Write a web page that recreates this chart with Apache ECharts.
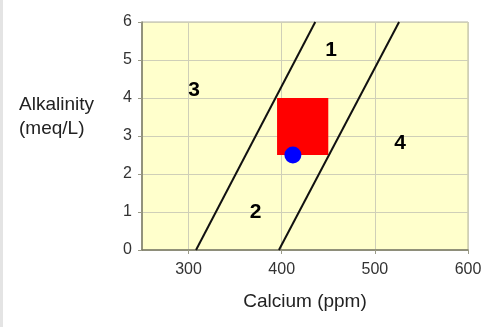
<!DOCTYPE html>
<html>
<head>
<meta charset="utf-8">
<script src="https://cdn.jsdelivr.net/npm/echarts@6/dist/echarts.min.js"></script>
<style>
html,body{margin:0;padding:0;background:#fff;}
#chart{width:500px;height:327px;}
</style>
</head>
<body>
<div id="chart"></div>
<script>
// ---- data ----
var xTicks = [300, 400, 500, 600];
var yTicks = [0, 1, 2, 3, 4, 5, 6];
var boundaryLeft = [[308, 0], [436, 6]];
var boundaryRight = [[397, 0], [526, 6]];
var targetBoxX = [395, 450];
var targetBoxY = [2.5, 4];
var samplePoint = [[412, 2.5]];
var regionNames = ['1', '2', '3', '4'];
var regionX = [453, 372, 306, 527];
var regionY = [5.25, 1.0, 4.2, 2.8];
var xName = 'Calcium (ppm)';
var yName = 'Alkalinity\n(meq/L)';

var regionData = regionNames.map(function (n, i) {
  return { name: n, value: [regionX[i], regionY[i]] };
});

var chart = echarts.init(document.getElementById('chart'), null, { renderer: 'canvas' });
var font = '"Liberation Sans", Arial, sans-serif';
chart.setOption({
  animation: false,
  backgroundColor: '#ffffff',
  graphic: [{
    type: 'rect', left: 0, top: 0, shape: { width: 3, height: 327 },
    style: { fill: '#e4e4e4' }, silent: true
  }, {
    type: 'text', left: 19, top: 93, silent: true,
    style: { text: yName, fontFamily: font, fontSize: 19, lineHeight: 24, fill: '#222', align: 'left' }
  }],
  grid: {
    left: 142, right: 32, top: 22, bottom: 77,
    show: true, backgroundColor: '#FFFFCC', borderColor: '#b4b4a0', borderWidth: 1
  },
  xAxis: {
    type: 'value', min: 250, max: 600,
    name: xName, nameLocation: 'middle', nameGap: 42,
    nameTextStyle: { fontFamily: font, fontSize: 19, color: '#222' },
    axisLine: { show: true, lineStyle: { color: '#7a7a66', width: 1.5 } },
    axisTick: { show: true, length: 4, customValues: xTicks, lineStyle: { color: '#9a9a88' } },
    axisLabel: { customValues: xTicks, margin: 12, fontFamily: font, fontSize: 16, color: '#333' },
    splitLine: { show: true, lineStyle: { color: '#cfcfb8', width: 1 } }
  },
  yAxis: {
    type: 'value', min: 0, max: 6, interval: 1,
    axisLine: { show: true, lineStyle: { color: '#7a7a66', width: 1.5 } },
    axisTick: { show: true, length: 4, lineStyle: { color: '#9a9a88' } },
    axisLabel: { margin: 10, fontFamily: font, fontSize: 16, color: '#333' },
    splitLine: { show: true, lineStyle: { color: '#cfcfb8', width: 1 } }
  },
  series: [
    {
      type: 'line', data: boundaryLeft, symbol: 'none', z: 3,
      lineStyle: { color: '#111', width: 2 },
      markArea: {
        silent: true,
        itemStyle: { color: '#ff0000', opacity: 1 },
        data: [[{ coord: [targetBoxX[0], targetBoxY[1]] }, { coord: [targetBoxX[1], targetBoxY[0]] }]]
      }
    },
    {
      type: 'line', data: boundaryRight, symbol: 'none', z: 3,
      lineStyle: { color: '#111', width: 2 }
    },
    {
      type: 'scatter', data: samplePoint, symbol: 'circle', symbolSize: 17, z: 5,
      itemStyle: { color: '#0000ff', opacity: 1 }
    },
    {
      type: 'scatter', data: regionData, symbolSize: 0, z: 6,
      itemStyle: { opacity: 1 },
      label: {
        show: true, position: 'inside', formatter: '{b}',
        fontFamily: font, fontSize: 21, fontWeight: 'bold', color: '#000'
      }
    }
  ]
});
</script>
</body>
</html>
